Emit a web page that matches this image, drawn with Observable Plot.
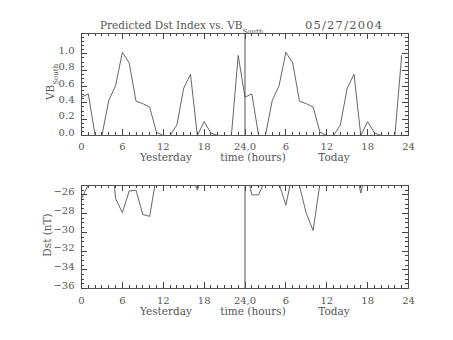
<!DOCTYPE html>
<html><head><meta charset="utf-8">
<script src="https://cdn.jsdelivr.net/npm/d3@7"></script>
<script src="https://cdn.jsdelivr.net/npm/@observablehq/plot@0.6"></script>
<style>
body{margin:0;background:#fff;}
#c{position:relative;width:453px;height:340px;overflow:hidden;}
#c svg{position:absolute;left:0;display:block;}
</style></head><body><div id="c"></div>
<script>
// ---- data ----
const hours = [0,1,2,3,4,5,6,7,8,9,10,11,12,13,14,15,16,17,18,19,20,21,22,23,
               24,25,26,27,28,29,30,31,32,33,34,35,36,37,38,39,40,41,42,43,44,45,46,47];
const vbSouth = [0.47,0.51,0,0,0.43,0.61,1.02,0.89,0.42,0.39,0.35,0.04,0,0,0.13,0.58,0.75,0,0.17,0.03,0,0,0,0.98,
                 0.47,0.51,0,0,0.43,0.61,1.02,0.89,0.42,0.39,0.35,0.04,0,0,0.13,0.58,0.75,0,0.17,0.03,0,0,0,0.98];
const dst = [-26.4,-24.9,-22,-20,-18,-26.4,-27.9,-25.6,-25.5,-28.1,-28.3,-24.0,-22,-21,-21,-22,-23.5,-25.5,-23.5,-22,-21,-21,-22,-22.5,
             -22.7,-26.0,-26.0,-24.3,-22,-24.8,-27.1,-23.6,-25.05,-28.0,-29.8,-24.8,-23,-22,-22,-23,-22.6,-25.8,-22.6,-22,-21,-21,-22,-22];
const dayBoundary = [24];
const xTickValues = [0,6,12,18,24,30,36,42,48];
const xTickLabels = ["0","6","12","18","24,0","6","12","18","24"];
const vbTickValues = [0,0.2,0.4,0.6,0.8,1.0];
const vbTickLabels = ["0.0","0.2","0.4","0.6","0.8","1.0"];
const dstTickValues = [-26,-28,-30,-32,-34,-36];
const dstTickLabels = ["\u221226","\u221228","\u221230","\u221232","\u221234","\u221236"];
const titleText = "Predicted Dst Index vs. VB";
const titleSub = "South";
const dateText = "05/27/2004";
const xTitleParts = ["Yesterday", "time (hours)", "Today"];

// ---- layout ----
const FONT = "'DejaVu Serif', serif";
const INK = "#555";
const xMinor = d3.range(0, 49, 1);
const xDomain = [0, 48];
const W = 453, H = 170, ML = 81, MR = 45;

function panel({values, yDomain, yTicks, yLabels, yMinor, mt, mb, labelPad}) {
  const xLab = new Map(xTickValues.map((v, i) => [v, xTickLabels[i]]));
  const yLab = new Map(yTicks.map((v, i) => [v, yLabels[i]]));
  const fh = H - mt - mb, fw = W - ML - MR;
  const [y0, y1] = yDomain, [x0, x1] = xDomain;
  const uy = (y1 - y0) / fh, ux = (x1 - x0) / fw;
  const sty = {stroke: "#444", strokeWidth: 1, shapeRendering: "crispEdges"};
  const inX = (ticks, n) => [
    Plot.ruleX(ticks, {x: d => d, y1: () => y0, y2: () => y0 + n * uy, ...sty}),
    Plot.ruleX(ticks, {x: d => d, y1: () => y1, y2: () => y1 - n * uy, ...sty})
  ];
  const inY = (ticks, n) => [
    Plot.ruleY(ticks, {y: d => d, x1: () => x0, x2: () => x0 + n * ux, ...sty}),
    Plot.ruleY(ticks, {y: d => d, x1: () => x1, x2: () => x1 - n * ux, ...sty})
  ];
  return Plot.plot({
    width: W, height: H,
    marginLeft: ML, marginRight: MR, marginTop: mt, marginBottom: mb,
    x: {domain: xDomain},
    y: {domain: yDomain},
    style: {fontFamily: FONT, fontSize: "10px", color: INK, background: "transparent", overflow: "visible"},
    marks: [
      Plot.frame({stroke: INK}),
      ...inX(xMinor, 3),
      ...inX(xTickValues, 6),
      ...inY(yMinor, 3),
      ...inY(yTicks, 6),
      Plot.axisX(xTickValues, {anchor: "bottom", label: null, tickSize: 0, tickPadding: labelPad, tickFormat: d => xLab.get(d)}),
      Plot.axisY(yTicks, {anchor: "left", label: null, tickSize: 0, tickPadding: 7, dy: -3, tickFormat: d => yLab.get(d)}),
      Plot.ruleX(dayBoundary, {stroke: INK}),
      Plot.line(values, {x: hours, y: values, stroke: "#555", strokeWidth: 0.9, clip: true})
    ]
  });
}

const topChart = panel({values: vbSouth, yDomain: [0, 1.25], yTicks: vbTickValues, yLabels: vbTickLabels,
  yMinor: d3.range(0, 1.2501, 0.05), mt: 33, mb: 35, labelPad: 7});
const botChart = panel({values: dst, yDomain: [-36, -25], yTicks: dstTickValues, yLabels: dstTickLabels,
  yMinor: d3.range(-36, -24.99, 0.5), mt: 15, mb: 52, labelPad: 8});

const c = document.getElementById("c");
topChart.style.top = "0px"; botChart.style.top = "170px";
c.appendChild(topChart); c.appendChild(botChart);

function xTitles(svg, baseline) {
  const xs = [166, 253, 334];
  xTitleParts.forEach((t, i) => {
    d3.select(svg).append("text").attr("x", xs[i]).attr("y", baseline)
      .attr("text-anchor", "middle").attr("fill", INK)
      .style("font", "10.5px " + FONT).text(t);
  });
}
xTitles(topChart, 161);
xTitles(botChart, 145);

const tsel = d3.select(topChart);
const tt = tsel.append("text").attr("x", 100).attr("y", 29).attr("text-anchor", "start").attr("fill", INK).style("font", "10.5px " + FONT);
tt.append("tspan").text(titleText);
tt.append("tspan").attr("dy", 5).style("font-size", "7px").text(titleSub);
tsel.append("text").attr("x", 305).attr("y", 29).attr("text-anchor", "start").attr("fill", INK)
  .style("font", "11.5px " + FONT).style("letter-spacing", "1.2px").text(dateText);

const yt = tsel.append("text").attr("transform", "translate(54,100) rotate(-90)").attr("text-anchor", "start")
  .attr("fill", INK).style("font", "10.5px " + FONT);
yt.append("tspan").text("VB");
yt.append("tspan").attr("dy", 4).style("font-size", "7px").text("South");
d3.select(botChart).append("text").attr("transform", "translate(51,65) rotate(-90)").attr("text-anchor", "middle")
  .attr("fill", INK).style("font", "10.5px " + FONT).text("Dst (nT)");
</script></body></html>
